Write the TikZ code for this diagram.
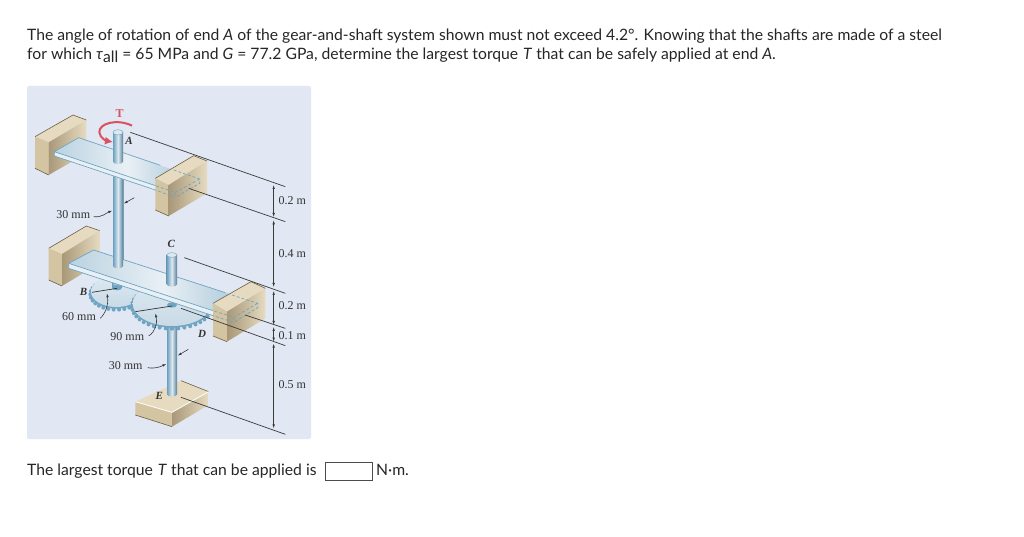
\documentclass[tikz,border=0pt]{standalone}
\usepackage{fontspec}
\setmainfont{Lato}
\newfontfamily\figfont{Liberation Serif}
\usetikzlibrary{arrows.meta}
\definecolor{panelblue}{HTML}{E1E7F3}
\definecolor{steeledge}{HTML}{6FA5C2}
\definecolor{steeldark}{HTML}{6C9FBD}
\definecolor{steellight}{HTML}{DCE9F1}
\definecolor{platelight}{HTML}{E9F0F5}
\definecolor{platemid}{HTML}{9DBFD4}
\definecolor{gearface}{HTML}{C9DAE6}
\definecolor{walltop}{HTML}{E6DBC0}
\definecolor{wallside}{HTML}{D3C4A2}
\definecolor{walldark}{HTML}{A99878}
\definecolor{wallline}{HTML}{6E5F45}
\definecolor{torquered}{HTML}{D9525F}
\definecolor{dimgray}{HTML}{3A3A3A}
\tikzset{
  bodytext/.style={anchor=base west, inner sep=0pt, font=\fontsize{15.7}{18}\selectfont, text=black!85},
  figlabel/.style={inner sep=0pt, font=\figfont\fontsize{12}{14}\selectfont, text=black!80},
  figletter/.style={inner sep=0pt, font=\figfont\itshape\bfseries\fontsize{11}{13}\selectfont, text=black!80},
  dimline/.style={draw=dimgray, line width=0.7pt},
  dimarrow/.style={draw=dimgray, line width=0.5pt, {Latex[length=4pt,width=2.5pt]}-{Latex[length=4pt,width=2.5pt]}},
  leader/.style={draw=dimgray, line width=0.6pt, -{Latex[length=4pt,width=2.5pt]}},
  plateedge/.style={draw=steeledge, line width=0.7pt},
  hidden/.style={draw=steeledge, line width=0.7pt, dash pattern=on 3pt off 2pt},
  shaftshade/.style={left color=steeldark, right color=steeldark!80!black, middle color=steellight},
  plateshade/.style={left color=platemid!70, right color=platemid, middle color=platelight},
  wallshade/.style={left color=walldark, right color=walltop},
}
\begin{document}
\begin{tikzpicture}[x=1pt,y=-1pt]
  \useasboundingbox (0,0) rectangle (1024,537);
  \fill[white] (0,0) rectangle (1024,537);

  \node[bodytext] (line1) at (27,41) {The angle of rotation of end \textit{A} of the gear-and-shaft system shown must not exceed 4.2°. Knowing that the shafts are made of a steel};
  \node[bodytext] (line2) at (27,60) {for which \textit{τ}\raisebox{-2.5pt}{all} = 65 MPa and \textit{G} = 77.2 GPa, determine the largest torque \hspace{1pt}\textit{T} that can be safely applied at end \textit{A}.};
  \node[bodytext] (answer) at (27,475) {The largest torque \hspace{1pt}\textit{T} that can be applied is};
  \node[bodytext] (unit) at (376,475) {N·m.};
  \draw[black!70, line width=1pt] (325.5,462.5) rectangle (372,480);

  \fill[panelblue, rounded corners=2pt] (27,86) rectangle (311,439);

  \begin{scope}[shift={(27,85)},scale=0.33333]
    % upper left wall
    \fill[walltop] (24,155) -- (138,90) -- (178,105) -- (65,172) -- cycle;
    \fill[wallside] (24,155) -- (65,172) -- (65,270) -- (24,250) -- cycle;
    \shade[wallshade] (65,172) -- (178,105) -- (178,205) -- (65,270) -- cycle;
    \draw[wallline, line width=0.6pt] (24,155) -- (138,90) -- (178,105) (24,250) -- (65,270);

    % lower part of shaft A
    \shade[shaftshade] (258,250) rectangle (288,545);
    \draw[steeldark] (258,250) -- (258,545) (288,250) -- (288,545);

    % upper plate
    \shade[plateshade] (82,200) -- (155,158) -- (520,282) -- (445,322) -- cycle;
    \fill[platelight] (82,200) -- (445,322) -- (445,337) -- (82,213) -- cycle;
    \draw[plateedge] (82,200) -- (155,158) -- (400,241) (82,200) -- (400,307) (82,213) -- (385,315) (82,200) -- (82,213);

    % upper right wall
    \fill[walltop] (385,280) -- (500,212) -- (540,228) -- (425,300) -- cycle;
    \fill[wallside] (385,280) -- (425,300) -- (425,393) -- (385,375) -- cycle;
    \shade[wallshade] (425,300) -- (540,228) -- (540,325) -- (425,393) -- cycle;
    \draw[wallline, line width=0.6pt] (385,280) -- (500,212) -- (540,228) (385,375) -- (425,393);
    \draw[hidden] (440,255) -- (518,282) -- (518,295) -- (445,337) -- (385,315) (518,282) -- (445,322) -- (385,302) (445,322) -- (445,337);

    % upper part of shaft A
    \shade[shaftshade] (258,142) -- (258,230) arc[start angle=180, end angle=360, x radius=15, y radius=-7] -- (288,142) -- cycle;
    \fill[steellight] (273,142) circle [x radius=15, y radius=8];
    \draw[steeldark] (273,142) circle [x radius=15, y radius=8];

    % lower left wall
    \fill[walltop] (65,490) -- (178,423) -- (218,437) -- (105,507) -- cycle;
    \fill[wallside] (65,490) -- (105,507) -- (105,603) -- (65,585) -- cycle;
    \shade[wallshade] (105,507) -- (218,437) -- (218,535) -- (105,603) -- cycle;
    \draw[wallline, line width=0.6pt] (65,490) -- (178,423) -- (218,437) (65,585) -- (105,603);

    % base at E
    \fill[walltop] (325,950) -- (462,887) -- (545,920) -- (435,982) -- cycle;
    \fill[wallside] (325,950) -- (435,982) -- (435,1025) -- (325,990) -- cycle;
    \shade[wallshade] (435,982) -- (545,920) -- (545,960) -- (435,1025) -- cycle;
    \draw[wallline, line width=0.6pt] (462,887) -- (545,920) (325,990) -- (435,1025);
    \draw[white, line width=0.8pt] (325,950) -- (435,982) -- (545,920);

    % gears under lower plate
    \foreach \a in {0,12,...,348}{
      \fill[steeledge] ({268+78*cos(\a)},{628+46*sin(\a)}) circle [radius=6];
    }
    \fill[steeledge] (268,625) circle [x radius=77, y radius=46];
    \shade[top color=steellight, bottom color=gearface] (268,620) circle [x radius=76, y radius=46];
    \shade[shaftshade] (420,720) -- (420,928) arc[start angle=180, end angle=360, x radius=15, y radius=-7] -- (450,720) -- cycle;
    \foreach \a in {0,9,...,351}{
      \fill[steeledge] ({435+120*cos(\a)},{664+67*sin(\a)}) circle [radius=6];
    }
    \fill[steeledge] (435,661) circle [x radius=119, y radius=67];
    \shade[top color=steellight, bottom color=gearface] (435,656) circle [x radius=118, y radius=67];
    \shade[shaftshade] (255,590) rectangle (285,608);
    \fill[steeledge] (270,608) circle [x radius=15, y radius=8];
    \fill[steeledge] (435,660) circle [x radius=15, y radius=8];

    % lower plate
    \shade[plateshade] (125,535) -- (200,495) -- (695,655) -- (620,697) -- cycle;
    \fill[platelight] (125,535) -- (620,697) -- (620,712) -- (125,550) -- cycle;
    \draw[plateedge] (125,535) -- (200,495) -- (595,623) (125,535) -- (558,677) (125,550) -- (558,692) (125,535) -- (125,550);

    % shaft A end and shaft C
    \shade[shaftshade] (258,500) -- (258,543) arc[start angle=180, end angle=360, x radius=15, y radius=-7] -- (288,500) -- cycle;
    \shade[shaftshade] (419,510) -- (419,598) arc[start angle=180, end angle=360, x radius=15.5, y radius=-7] -- (450,510) -- cycle;
    \fill[steellight] (434.5,510) circle [x radius=15.5, y radius=7];
    \draw[steeldark] (434.5,510) circle [x radius=15.5, y radius=7];

    % middle right wall
    \fill[walltop] (558,655) -- (672,590) -- (715,610) -- (600,680) -- cycle;
    \fill[wallside] (558,655) -- (600,680) -- (600,770) -- (558,753) -- cycle;
    \shade[wallshade] (600,680) -- (715,610) -- (715,700) -- (600,770) -- cycle;
    \draw[wallline, line width=0.6pt] (558,655) -- (672,590) -- (715,610) (558,753) -- (600,770);
    \draw[hidden] (615,630) -- (692,655) -- (692,668) -- (620,712) -- (558,692) (692,655) -- (620,697) -- (558,677) (620,697) -- (620,712);

    % dimension lines
    \coordinate (a1) at (310,142);   \coordinate (a2) at (775,305);
    \coordinate (b1) at (485,310);   \coordinate (b2) at (775,410);
    \coordinate (c1) at (472,518);   \coordinate (c2) at (775,625);
    \coordinate (d1) at (655,690);   \coordinate (d2) at (775,730);
    \coordinate (g1) at (462,670);   \coordinate (g2) at (775,782);
    \coordinate (e1) at (462,937);   \coordinate (e2) at (775,1048);
    \foreach \p/\q in {a1/a2,b1/b2,c1/c2,d1/d2,g1/g2,e1/e2}{
      \draw[dimline] (\p) -- (\q);
    }
    \coordinate (v1) at (740,300);   \coordinate (v2) at (740,396);
    \coordinate (v3) at (740,406);   \coordinate (v4) at (740,606);
    \coordinate (v5) at (740,618);   \coordinate (v6) at (740,720);
    \coordinate (v7) at (740,726);   \coordinate (v8) at (740,770);
    \coordinate (v9) at (740,776);   \coordinate (v10) at (740,1030);
    \foreach \p/\q in {v1/v2,v3/v4,v5/v6,v7/v8,v9/v10}{
      \draw[dimarrow] (\p) -- (\q);
    }

    % gear radii
    \coordinate (rb1) at (195,622);  \coordinate (rb2) at (270,610);
    \coordinate (rc1) at (325,680);  \coordinate (rc2) at (435,663);
    \draw[black!80, line width=0.7pt] (rb1) -- (rb2);
    \draw[black!80, line width=0.7pt] (rc1) -- (rc2);

    % leaders
    \coordinate (l1) at (200,395);   \coordinate (l2) at (256,377);
    \coordinate (l3) at (322,338);   \coordinate (l4) at (290,356);
    \coordinate (l5) at (362,848);   \coordinate (l6) at (418,837);
    \coordinate (l7) at (484,793);   \coordinate (l8) at (452,812);
    \coordinate (l9) at (220,700);   \coordinate (l10) at (240,625);
    \coordinate (l11) at (365,753);  \coordinate (l12) at (385,685);
    \draw[leader] (l1) .. controls (225,398) and (235,385) .. (l2);
    \draw[leader] (l3) -- (l4);
    \draw[leader] (l5) .. controls (385,852) and (400,845) .. (l6);
    \draw[leader] (l7) -- (l8);
    \draw[leader] (l9) .. controls (235,685) and (245,660) .. (l10);
    \draw[leader] (l11) .. controls (385,740) and (392,715) .. (l12);

    % torque
    \coordinate (t1) at (315,122);   \coordinate (t2) at (258,171);
    \draw[torquered, line width=2pt, -{Latex[length=8pt,width=8pt]}] (t1) .. controls (270,100) and (215,115) .. (217,142) .. controls (219,160) and (240,168) .. (t2);

    % labels
    \node[inner sep=0pt, font=\figfont\bfseries\fontsize{12}{14}\selectfont, text=torquered] (T) at (278,85) {T};
    \node[figletter] (A) at (306,167) {A};
    \node[figletter] (C) at (433,476) {C};
    \node[figletter] (B) at (170,621) {B};
    \node[figletter] (D) at (525,747) {D};
    \node[figletter] (E) at (397,933) {E};
    \node[figlabel] (w1) at (139,388) {30 mm};
    \node[figlabel] (w2) at (156,695) {60 mm};
    \node[figlabel] (w3) at (301,755) {90 mm};
    \node[figlabel] (w4) at (296,842) {30 mm};
    \node[figlabel] (h1) at (796,348) {0.2 m};
    \node[figlabel] (h2) at (796,505) {0.4 m};
    \node[figlabel] (h3) at (796,662) {0.2 m};
    \node[figlabel] (h4) at (796,752) {0.1 m};
    \node[figlabel] (h5) at (796,900) {0.5 m};
  \end{scope}
\end{tikzpicture}
\end{document}
